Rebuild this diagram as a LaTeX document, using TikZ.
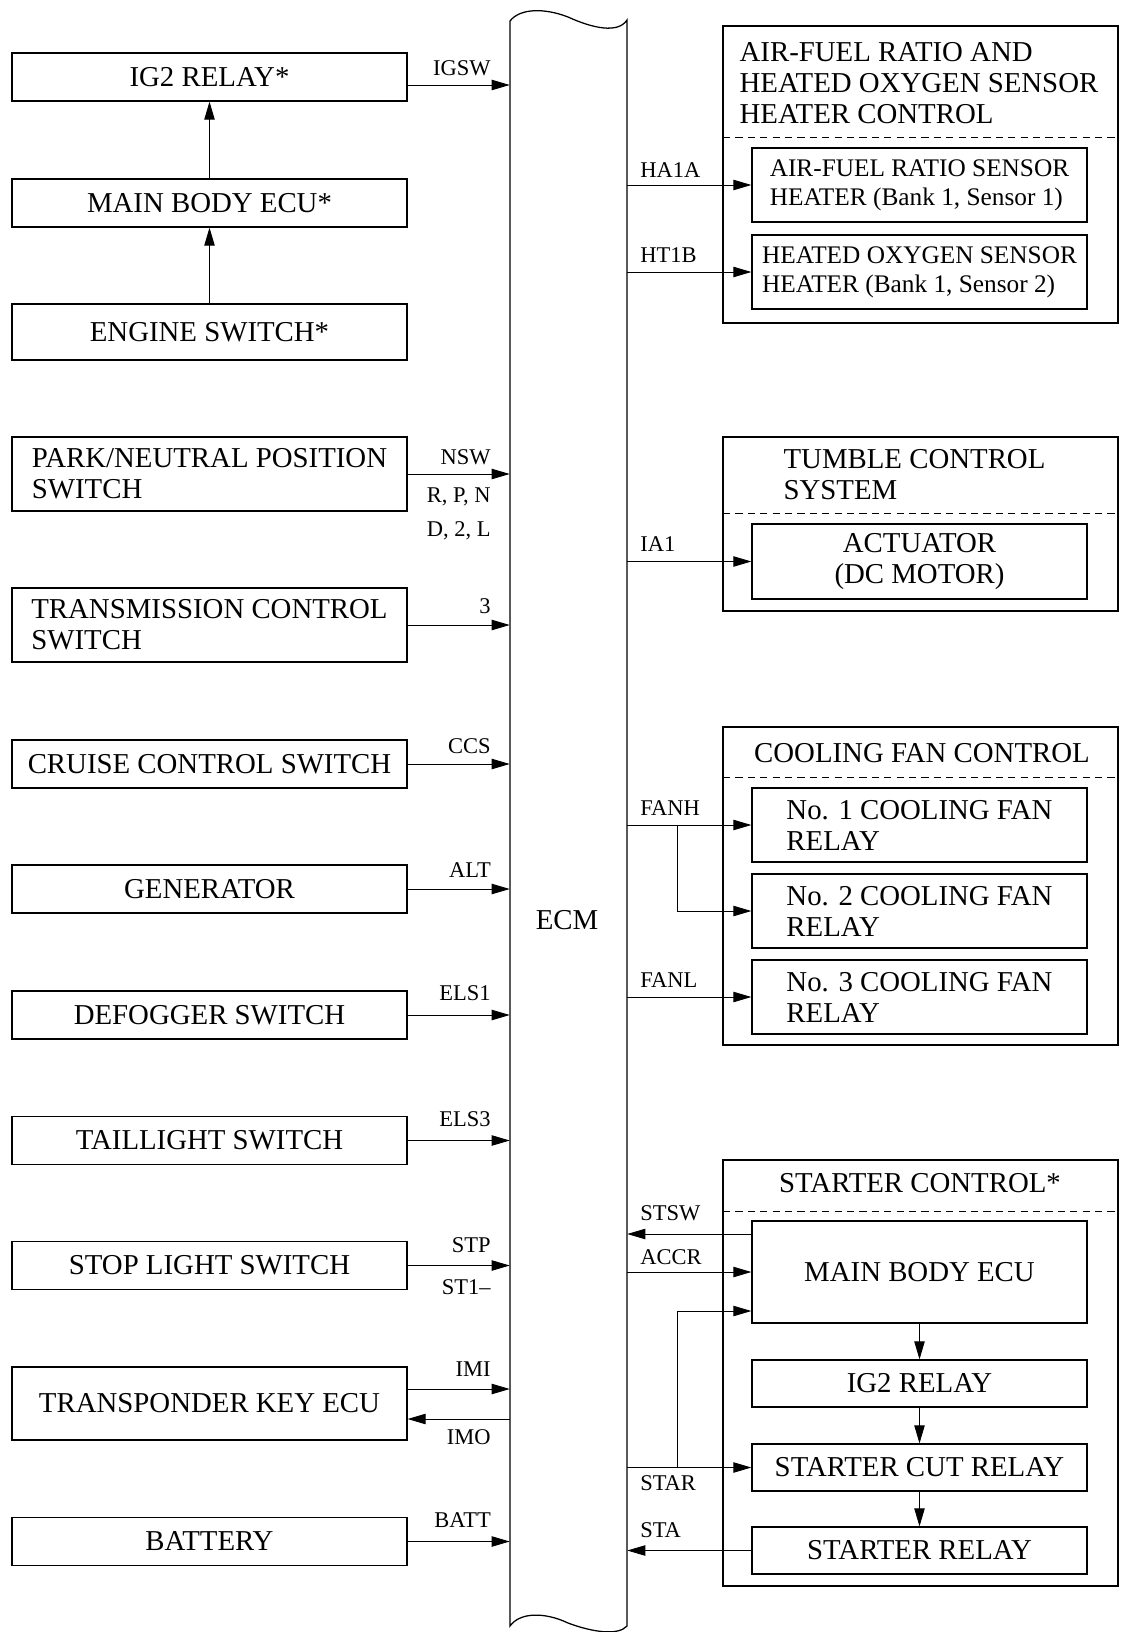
\documentclass[tikz,border=0pt]{standalone}
\usepackage{fontspec}
\setmainfont{Liberation Serif}
\usepackage{tikz}
\usetikzlibrary{arrows.meta}
\usetikzlibrary{calc}

\begin{document}
\begin{tikzpicture}[
  x=0.25mm, y=-0.25mm,
  box/.style={
    rectangle,
    draw,
    line width=0.9pt,
    inner sep=0pt,
    minimum width=98.75mm,
    minimum height=12mm,
    align=center,
    font=\fontsize{20.5}{22}\selectfont
  },
  sub/.style={box, minimum width=83.75mm, minimum height=18.5mm},
  grp/.style={rectangle, draw, line width=1.1pt, inner sep=0pt, minimum width=98.75mm},
  ttl/.style={font=\fontsize{20.5}{22}\selectfont, align=left, inner sep=0pt},
  lbl/.style={font=\fontsize{16}{18}\selectfont, inner sep=0pt},
  sep/.style={dashed, dash pattern=on 1.8mm off 1.3mm, line width=0.6pt},
  arr/.style={-{Triangle[length=4.5mm, width=2.6mm]}, line width=0.6pt}
]
\useasboundingbox (0,0) rectangle (1122,1632);

% ECM
\node[minimum width=29.25mm, minimum height=401.75mm, inner sep=0pt] (ecm) at (568.5,823.5) {};
\draw[line width=0.9pt] (510,1626) -- (510,21)
  .. controls (520,8) and (545,8) .. (568,17)
  .. controls (592,28) and (618,34) .. (627,20) -- (627,1626)
  .. controls (618,1636) and (592,1632) .. (568,1623)
  .. controls (545,1612) and (520,1612) .. (510,1626) -- cycle;
\node[ttl] (ecmlbl) at (567,920) {ECM};

% Inputs (left)
\node[box] (ig2) at (209.5,77) {IG2 RELAY*};
\node[box] (mbe) at (209.5,203) {MAIN BODY ECU*};
\node[box, minimum height=14mm] (esw) at (209.5,332) {ENGINE SWITCH*};
\node[box, minimum height=18.5mm, align=left] (pnp) at (209.5,474) {PARK/NEUTRAL POSITION\\SWITCH};
\node[box, minimum height=18.5mm, align=left] (tcs) at (209.5,625) {TRANSMISSION CONTROL\\SWITCH};
\node[box] (ccs) at (209.5,764) {CRUISE CONTROL SWITCH};
\node[box] (gen) at (209.5,889) {GENERATOR};
\node[box] (dfg) at (209.5,1015) {DEFOGGER SWITCH};
\node[box] (tls) at (209.5,1140.5) {TAILLIGHT SWITCH};
\node[box] (sls) at (209.5,1265.5) {STOP LIGHT SWITCH};
\node[box, minimum height=18.25mm] (tke) at (209.5,1403.5) {TRANSPONDER KEY ECU};
\node[box] (bat) at (209.5,1541.5) {BATTERY};

\draw[arr] (esw) -- (mbe);
\draw[arr] (mbe) -- (ig2);
\coordinate (igsw) at ($(ig2.east)+(0,8)$);
\draw[arr] (igsw) -- (igsw -| ecm.west);
\draw[arr] (pnp.east) -- (pnp.east -| ecm.west);
\draw[arr] (tcs.east) -- (tcs.east -| ecm.west);
\draw[arr] (ccs.east) -- (ccs.east -| ecm.west);
\draw[arr] (gen.east) -- (gen.east -| ecm.west);
\draw[arr] (dfg.east) -- (dfg.east -| ecm.west);
\draw[arr] (tls.east) -- (tls.east -| ecm.west);
\draw[arr] (sls.east) -- (sls.east -| ecm.west);
\coordinate (imi) at ($(tke.east)+(0,-14.5)$);
\coordinate (imo) at ($(tke.east)+(0,15.5)$);
\draw[arr] (imi) -- (imi -| ecm.west);
\draw[arr] (imo -| ecm.west) -- (imo);
\draw[arr] (bat.east) -- (bat.east -| ecm.west);

% Signal names (left)
\node[lbl, anchor=east] (igswl) at (491,68) {IGSW};
\node[lbl, anchor=east] (nswl) at (491,457) {NSW};
\node[lbl, anchor=east] (rpnl) at (491,497) {R, P, N};
\node[lbl, anchor=east] (d2ll) at (491,531) {D, 2, L};
\node[lbl, anchor=east] (thrl) at (491,606) {3};
\node[lbl, anchor=east] (ccsl) at (491,746) {CCS};
\node[lbl, anchor=east] (altl) at (491,870) {ALT};
\node[lbl, anchor=east] (els1l) at (491,993) {ELS1};
\node[lbl, anchor=east] (els3l) at (491,1119) {ELS3};
\node[lbl, anchor=east] (stpl) at (491,1245) {STP};
\node[lbl, anchor=east] (st1l) at (491,1287) {ST1–};
\node[lbl, anchor=east] (imil) at (491,1369) {IMI};
\node[lbl, anchor=east] (imol) at (491,1437) {IMO};
\node[lbl, anchor=east] (battl) at (491,1520) {BATT};

% Air-fuel ratio / O2 heater
\node[grp, minimum height=74.25mm] (afr) at (920.5,174.5) {};
\node[ttl] (afrttl) at (919,83.5) {AIR-FUEL RATIO AND\\HEATED OXYGEN SENSOR\\HEATER CONTROL};
\draw[sep] (723,137) -- (1118,137);
\node[sub, align=left, font=\fontsize{18}{20.6}\selectfont] (afs) at (919.5,185) {AIR-FUEL RATIO SENSOR\\HEATER (Bank 1, Sensor 1)};
\node[sub, align=left, font=\fontsize{18}{20.6}\selectfont] (hos) at (919.5,272) {HEATED OXYGEN SENSOR\\HEATER (Bank 1, Sensor 2)};

% Tumble control
\node[grp, minimum height=43.5mm] (tmb) at (920.5,524) {};
\node[ttl] (tmbttl) at (914.5,475) {TUMBLE CONTROL\\SYSTEM};
\draw[sep] (723,513) -- (1118,513);
\node[sub, minimum height=18.75mm] (act) at (919.5,561.5) {ACTUATOR\\(DC MOTOR)};

% Cooling fan control
\node[grp, minimum height=79.5mm] (cfc) at (920.5,886) {};
\node[ttl] (cfcttl) at (922,753) {COOLING FAN CONTROL};
\draw[sep] (723,777) -- (1118,777);
\node[sub, align=left] (fan1) at (919.5,825) {No. 1 COOLING FAN\\RELAY};
\node[sub, align=left] (fan2) at (919.5,911) {No. 2 COOLING FAN\\RELAY};
\node[sub, align=left] (fan3) at (919.5,997) {No. 3 COOLING FAN\\RELAY};

% Starter control
\node[grp, minimum height=106.5mm] (stc) at (920.5,1373) {};
\node[ttl] (stcttl) at (920,1183) {STARTER CONTROL*};
\draw[sep] (723,1211) -- (1118,1211);
\node[sub, minimum height=25.5mm] (mbecu) at (919.5,1272) {MAIN BODY ECU};
\node[sub, minimum height=11.75mm] (ig2r) at (919.5,1383.5) {IG2 RELAY};
\node[sub, minimum height=11.75mm] (cut) at (919.5,1467.5) {STARTER CUT RELAY};
\node[sub, minimum height=11.75mm] (strel) at (919.5,1550.5) {STARTER RELAY};

% Outputs (right)
\draw[arr] (afs.west -| ecm.east) -- (afs.west);
\draw[arr] (hos.west -| ecm.east) -- (hos.west);
\draw[arr] (act.west -| ecm.east) -- (act.west);
\draw[arr] (fan1.west -| ecm.east) -- (fan1.west);
\coordinate (fanj) at (677,825);
\draw[arr] (fanj) |- (fan2.west);
\draw[arr] (fan3.west -| ecm.east) -- (fan3.west);
\coordinate (stsw) at ($(mbecu.west)+(0,-38)$);
\draw[arr] (stsw) -- (stsw -| ecm.east);
\draw[arr] (mbecu.west -| ecm.east) -- (mbecu.west);
\draw[arr] (cut.west -| ecm.east) -- (cut.west);
\coordinate (starj) at (677,1467.5);
\draw[arr] (starj) |- ($(mbecu.west)+(0,39)$);
\draw[arr] (strel.west) -- (strel.west -| ecm.east);
\draw[arr] (mbecu) -- (ig2r);
\draw[arr] (ig2r) -- (cut);
\draw[arr] (cut) -- (strel);

% Signal names (right)
\node[lbl, anchor=west] (ha1al) at (640,170) {HA1A};
\node[lbl, anchor=west] (ht1bl) at (640,255) {HT1B};
\node[lbl, anchor=west] (ia1l) at (640,544) {IA1};
\node[lbl, anchor=west] (fanhl) at (640,808) {FANH};
\node[lbl, anchor=west] (fanll) at (640,980) {FANL};
\node[lbl, anchor=west] (stswl) at (640,1213) {STSW};
\node[lbl, anchor=west] (accrl) at (640,1257) {ACCR};
\node[lbl, anchor=west] (starl) at (640,1483) {STAR};
\node[lbl, anchor=west] (stal) at (640,1530) {STA};

\end{tikzpicture}
\end{document}
